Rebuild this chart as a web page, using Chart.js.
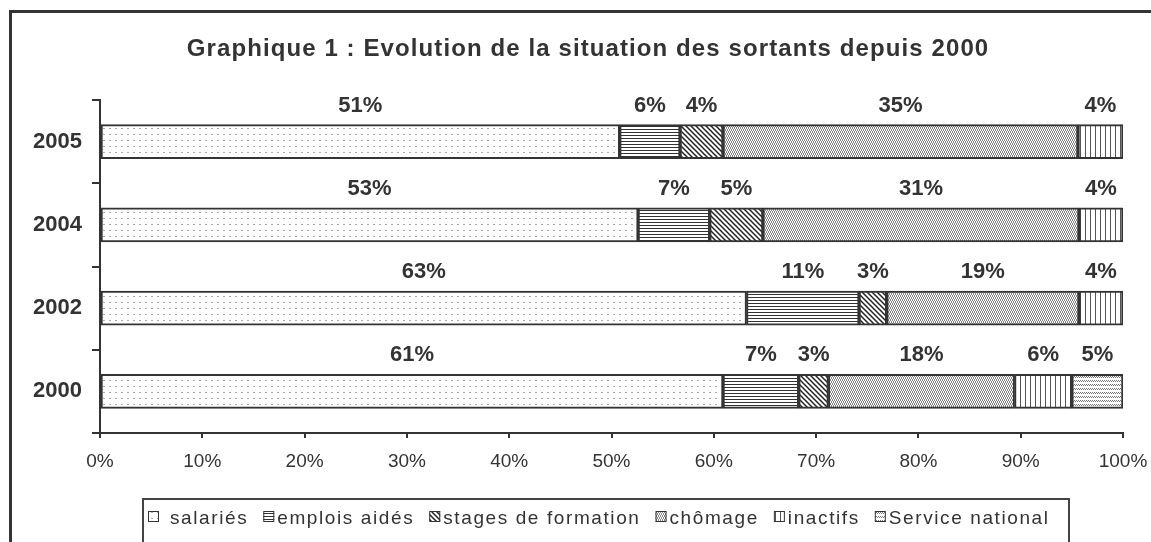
<!DOCTYPE html>
<html>
<head>
<meta charset="utf-8">
<script src="https://cdn.jsdelivr.net/npm/chart.js@4/dist/chart.umd.min.js"></script>
<style>
html,body{margin:0;padding:0;background:#fff;}
#wrap{width:1151px;height:542px;position:relative;}
</style>
</head>
<body>
<div id="wrap"><canvas id="c" width="1151" height="542"></canvas></div>
<script>
// ---- data ----
const categories = ['2005', '2004', '2002', '2000'];
const salaries        = [50.8, 52.6, 63.2, 60.9];
const emploisAides    = [5.9, 7.0, 11.0, 7.4];
const stagesFormation = [4.2, 5.2, 2.7, 2.9];
const chomage         = [34.7, 30.9, 18.8, 18.2];
const inactifs        = [4.4, 4.3, 4.3, 5.6];
const serviceNational = [null, null, null, 5.0];
const seriesNames = ['salariés', 'emplois aidés', 'stages de formation', 'chômage', 'inactifs', 'Service national'];
const xTickStep = 10;
const titleText = 'Graphique 1 : Evolution de la situation des sortants depuis 2000';

// ---- patterns ----
const canvas = document.getElementById('c');
const mainCtx = canvas.getContext('2d');
function makePattern(w, h, draw) {
  const c = document.createElement('canvas');
  c.width = w; c.height = h;
  const x = c.getContext('2d');
  x.fillStyle = '#fff';
  x.fillRect(0, 0, w, h);
  draw(x, w, h);
  return mainCtx.createPattern(c, 'repeat');
}
function px(x, pts, color) { x.fillStyle = color; pts.forEach(p => x.fillRect(p[0], p[1], 1, 1)); }

const patSalaries = makePattern(6, 6, x => { x.fillStyle = '#a8a8a8'; x.fillRect(1, 2, 2, 1); });
const patEmplois = makePattern(3, 3, x => { x.fillStyle = '#333'; x.fillRect(0, 0, 3, 1); });
const patStages = makePattern(5, 5, x => {
  x.strokeStyle = '#222'; x.lineWidth = 1.5;
  [-5, 0, 5].forEach(k => { x.beginPath(); x.moveTo(k - 1, -1); x.lineTo(k + 6, 6); x.stroke(); });
});
const patChomage = makePattern(4, 4, x => {
  px(x, [[0,0],[1,1],[2,0],[3,1],[0,3],[1,2],[2,3],[3,2]], '#858585');
});
const patInactifs = makePattern(5, 1, x => { x.fillStyle = '#555'; x.fillRect(0, 0, 1, 1); });
const patService = makePattern(4, 4, x => {
  px(x, [[0,0],[1,1],[2,0],[3,1]], '#7a7a7a');
});
const patterns = [patSalaries, patEmplois, patStages, patChomage, patInactifs, patService];
const series = [salaries, emploisAides, stagesFormation, chomage, inactifs, serviceNational];

const FONT = "'Liberation Sans', Arial, sans-serif";
const INK = '#333';

const datasets = series.map((d, i) => ({
  label: seriesNames[i],
  data: d,
  backgroundColor: patterns[i],
  borderColor: INK,
  borderWidth: 2,
  borderSkipped: false,
  barThickness: 34
}));

const decor = {
  id: 'decor',
  beforeDraw(chart) {
    const ctx = chart.ctx;
    ctx.save();
    ctx.fillStyle = '#fff';
    ctx.fillRect(0, 0, chart.width, chart.height);
    ctx.restore();
  },
  afterDatasetsDraw(chart) {
    const ctx = chart.ctx;
    ctx.save();
    ctx.font = 'bold 22px ' + FONT;
    ctx.fillStyle = INK;
    ctx.textAlign = 'center';
    ctx.textBaseline = 'alphabetic';
    chart.data.datasets.forEach((ds, di) => {
      const meta = chart.getDatasetMeta(di);
      meta.data.forEach((el, i) => {
        const v = ds.data[i];
        if (v === null || v === undefined) return;
        const p = el.getProps(['x', 'y', 'base', 'height'], true);
        const cx = (p.x + p.base) / 2;
        const top = p.y - p.height / 2;
        ctx.fillText(Math.round(v) + '%', cx, top - 13);
      });
    });
    ctx.restore();
  },
  afterDraw(chart) {
    const ctx = chart.ctx;
    ctx.save();
    // outer frame
    ctx.strokeStyle = INK;
    ctx.lineWidth = 3;
    ctx.strokeRect(10.5, 11.5, 1300, 700);
    // title
    ctx.fillStyle = INK;
    ctx.font = 'bold 24px ' + FONT;
    ctx.letterSpacing = '1.1px';
    ctx.textAlign = 'center';
    ctx.textBaseline = 'alphabetic';
    ctx.fillText(titleText, 588, 56);
    // legend
    ctx.font = '19px ' + FONT;
    ctx.letterSpacing = '1.6px';
    ctx.textAlign = 'left';
    const box = 11, gapMT = 3, gapItem = 15;
    let x = 148;
    const legItems = chart.data.datasets.map((ds, i) => ({ label: ds.label, fill: ds.backgroundColor, lead: i === 0 ? 8 : 0 }));
    ctx.lineWidth = 2;
    ctx.strokeStyle = '#444';
    ctx.strokeRect(143, 499, 926, 50);
    legItems.forEach(it => {
      ctx.fillStyle = it.fill;
      ctx.fillRect(x, 511, box, box);
      ctx.lineWidth = 1;
      ctx.strokeStyle = INK;
      ctx.strokeRect(x + 0.5, 511.5, box - 1, box - 1);
      const tx = x + box + gapMT + it.lead;
      ctx.fillStyle = INK;
      ctx.fillText(it.label, tx, 524);
      x = tx + ctx.measureText(it.label).width + gapItem;
    });
    ctx.restore();
  }
};

new Chart(canvas, {
  type: 'bar',
  data: { labels: categories, datasets },
  options: {
    indexAxis: 'y',
    responsive: false,
    animation: false,
    devicePixelRatio: 1,
    layout: { padding: { top: 100, left: 10, right: 28, bottom: 64 } },
    plugins: { legend: { display: false }, title: { display: false }, tooltip: { enabled: false } },
    scales: {
      x: {
        stacked: true,
        min: 0, max: 100,
        ticks: { stepSize: xTickStep, callback: v => v + '%', color: INK, font: { family: FONT, size: 19 }, padding: 12, maxRotation: 0 },
        grid: { drawOnChartArea: false, drawTicks: true, tickLength: 5, color: INK, lineWidth: 2 },
        border: { display: true, color: INK, width: 2 },
        afterFit(s) { s.height = 45; s.paddingLeft = 0; s.paddingRight = 0; }
      },
      y: {
        stacked: true,
        ticks: { color: INK, font: { family: FONT, size: 22, weight: 'bold' }, padding: 10 },
        grid: { offset: true, drawOnChartArea: false, drawTicks: true, tickLength: 8, color: INK, lineWidth: 2 },
        border: { display: true, color: INK, width: 2 },
        afterFit(s) { s.width = 90; s.paddingTop = 0; s.paddingBottom = 0; }
      }
    }
  },
  plugins: [decor]
});
</script>
</body>
</html>
